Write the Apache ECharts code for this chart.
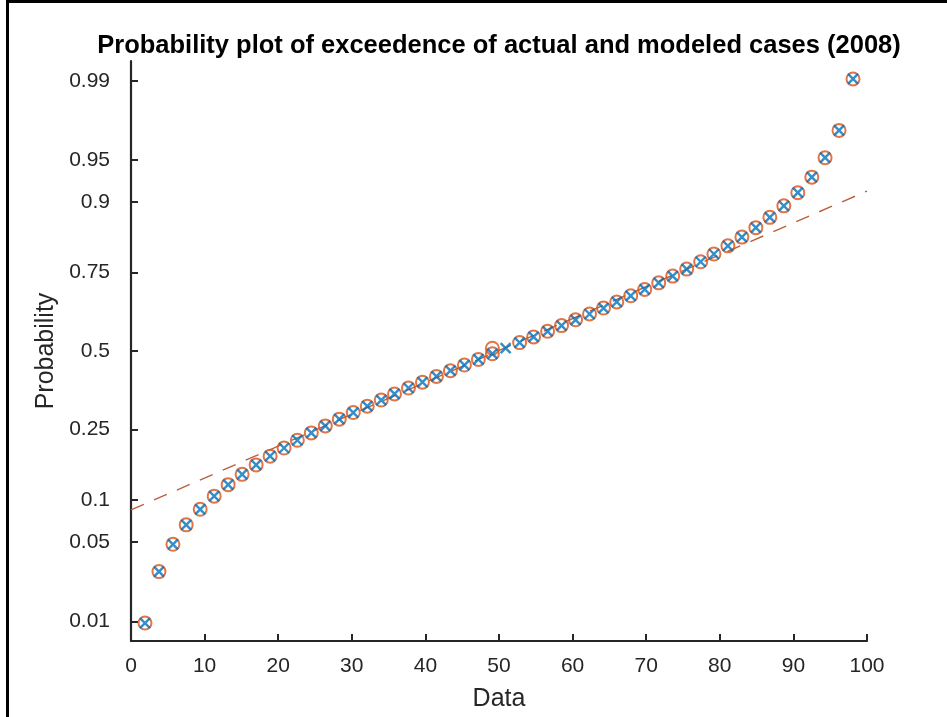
<!DOCTYPE html>
<html>
<head>
<meta charset="utf-8">
<script src="https://cdn.jsdelivr.net/npm/echarts@6/dist/echarts.min.js"></script>
<style>
html,body{margin:0;padding:0;background:#fff;}
#chart{width:947px;height:717px;}
</style>
</head>
<body>
<div id="chart"></div>
<script>
// ---- data ----
var actualX = [1.9, 3.8, 5.7, 7.5, 9.4, 11.3, 13.2, 15.1, 17.0, 18.9, 20.8, 22.6, 24.5, 26.4, 28.3, 30.2, 32.1, 34.0, 35.8, 37.7, 39.6, 41.5, 43.4, 45.3, 47.2, 49.1, 50.9, 52.8, 54.7, 56.6, 58.5, 60.4, 62.3, 64.2, 66.0, 67.9, 69.8, 71.7, 73.6, 75.5, 77.4, 79.2, 81.1, 83.0, 84.9, 86.8, 88.7, 90.6, 92.5, 94.3, 96.2, 98.1];
var modeledX = [1.9, 3.8, 5.7, 7.5, 9.4, 11.3, 13.2, 15.1, 17.0, 18.9, 20.8, 22.6, 24.5, 26.4, 28.3, 30.2, 32.1, 34.0, 35.8, 37.7, 39.6, 41.5, 43.4, 45.3, 47.2, 49.1, 49.1, 52.8, 54.7, 56.6, 58.5, 60.4, 62.3, 64.2, 66.0, 67.9, 69.8, 71.7, 73.6, 75.5, 77.4, 79.2, 81.1, 83.0, 84.9, 86.8, 88.7, 90.6, 92.5, 94.3, 96.2, 98.1];
var probabilities = [0.0096, 0.0288, 0.0481, 0.0673, 0.0865, 0.1058, 0.125, 0.1442, 0.1635, 0.1827, 0.2019, 0.2212, 0.2404, 0.2596, 0.2788, 0.2981, 0.3173, 0.3365, 0.3558, 0.375, 0.3942, 0.4135, 0.4327, 0.4519, 0.4712, 0.4904, 0.5096, 0.5288, 0.5481, 0.5673, 0.5865, 0.6058, 0.625, 0.6442, 0.6635, 0.6827, 0.7019, 0.7212, 0.7404, 0.7596, 0.7788, 0.7981, 0.8173, 0.8365, 0.8558, 0.875, 0.8942, 0.9135, 0.9327, 0.9519, 0.9712, 0.9904];
var refLineX = [0, 100];
var refLineP = [0.0857, 0.9157];
var probTicks = [0.01, 0.05, 0.1, 0.25, 0.5, 0.75, 0.9, 0.95, 0.99];
var probTickLabels = ['0.01', '0.05', '0.1', '0.25', '0.5', '0.75', '0.9', '0.95', '0.99'];
var xTicks = {min: 0, max: 100, interval: 10};
var probLimits = [0.00628, 0.99372];

// inverse standard normal CDF (Acklam) – the probability-scale transform
function invNorm(p) {
  var a = [-3.969683028665376e+01, 2.209460984245205e+02, -2.759285104469687e+02, 1.383577518672690e+02, -3.066479806614716e+01, 2.506628277459239e+00];
  var b = [-5.447609879822406e+01, 1.615858368580409e+02, -1.556989798598866e+02, 6.680131188771972e+01, -1.328068155288572e+01];
  var c = [-7.784894002430293e-03, -3.223964580411365e-01, -2.400758277161838e+00, -2.549732539343734e+00, 4.374664141464968e+00, 2.938163982698783e+00];
  var d = [7.784695709041462e-03, 3.224671290700398e-01, 2.445134137142996e+00, 3.754408661907416e+00];
  var pl = 0.02425, q, r;
  if (p < pl) {
    q = Math.sqrt(-2 * Math.log(p));
    return (((((c[0]*q+c[1])*q+c[2])*q+c[3])*q+c[4])*q+c[5]) / ((((d[0]*q+d[1])*q+d[2])*q+d[3])*q+1);
  } else if (p <= 1 - pl) {
    q = p - 0.5; r = q*q;
    return (((((a[0]*r+a[1])*r+a[2])*r+a[3])*r+a[4])*r+a[5])*q / (((((b[0]*r+b[1])*r+b[2])*r+b[3])*r+b[4])*r+1);
  } else {
    q = Math.sqrt(-2 * Math.log(1 - p));
    return -(((((c[0]*q+c[1])*q+c[2])*q+c[3])*q+c[4])*q+c[5]) / ((((d[0]*q+d[1])*q+d[2])*q+d[3])*q+1);
  }
}

var tickZ = probTicks.map(invNorm);
function pair(xs, ps) { return xs.map(function (x, i) { return [x, invNorm(ps[i])]; }); }

var axisColor = '#262626';
var font = 'Arial, "Liberation Sans", Helvetica, sans-serif';
var chart = echarts.init(document.getElementById('chart'), null, {renderer: 'canvas'});
chart.setOption({
  animation: false,
  backgroundColor: '#ffffff',
  title: {
    text: 'Probability plot of exceedence of actual and modeled cases (2008)',
    left: 494, top: 28, textAlign: 'center',
    textStyle: {fontFamily: font, fontSize: 25.5, fontWeight: 'bold', color: '#000'}
  },
  graphic: [
    {type: 'rect', shape: {x: 6, y: 0, width: 3, height: 717}, style: {fill: '#000'}},
    {type: 'rect', shape: {x: 6, y: 0, width: 941, height: 3}, style: {fill: '#000'}}
  ],
  grid: {left: 131, right: 80, top: 61, bottom: 76, containLabel: false},
  xAxis: {
    type: 'value', min: xTicks.min, max: xTicks.max, interval: xTicks.interval,
    name: 'Data', nameLocation: 'middle', nameGap: 46,
    nameTextStyle: {fontFamily: font, fontSize: 25, color: axisColor},
    axisLine: {show: true, onZero: false, lineStyle: {color: axisColor, width: 2.2}},
    axisTick: {show: true, inside: true, length: 7, lineStyle: {color: axisColor, width: 2}},
    axisLabel: {margin: 15, fontFamily: font, fontSize: 21, color: axisColor},
    splitLine: {show: false}
  },
  yAxis: {
    type: 'value', min: invNorm(probLimits[0]), max: invNorm(probLimits[1]),
    name: 'Probability', nameLocation: 'middle', nameGap: 71, nameRotate: 90,
    nameTextStyle: {fontFamily: font, fontSize: 25, color: axisColor},
    axisLine: {show: true, onZero: false, lineStyle: {color: axisColor, width: 2.2}},
    axisTick: {show: true, inside: true, length: 7, customValues: tickZ, lineStyle: {color: axisColor, width: 2}},
    axisLabel: {
      margin: 21, fontFamily: font, fontSize: 21, color: axisColor, customValues: tickZ,
      formatter: function (v) {
        for (var i = 0; i < tickZ.length; i++) { if (Math.abs(v - tickZ[i]) < 1e-6) return probTickLabels[i]; }
        return '';
      }
    },
    splitLine: {show: false}
  },
  series: [
    {
      name: 'reference', type: 'line', data: pair(refLineX, refLineP), symbol: 'none',
      lineStyle: {color: '#BA603C', width: 1.4, type: [14, 11]}, silent: true, z: 1
    },
    {
      name: 'modeled', type: 'scatter', data: pair(modeledX, probabilities), symbol: 'circle', symbolSize: 13,
      itemStyle: {color: 'rgba(0,0,0,0)', borderColor: '#D95319', borderWidth: 2}, z: 2
    },
    {
      name: 'actual', type: 'scatter', data: pair(actualX, probabilities), symbol: 'path://M0 0L10 10M10 0L0 10', symbolSize: 10,
      itemStyle: {color: '#0072BD', borderColor: '#0072BD', borderWidth: 2.4}, z: 3
    }
  ]
});
</script>
</body>
</html>
